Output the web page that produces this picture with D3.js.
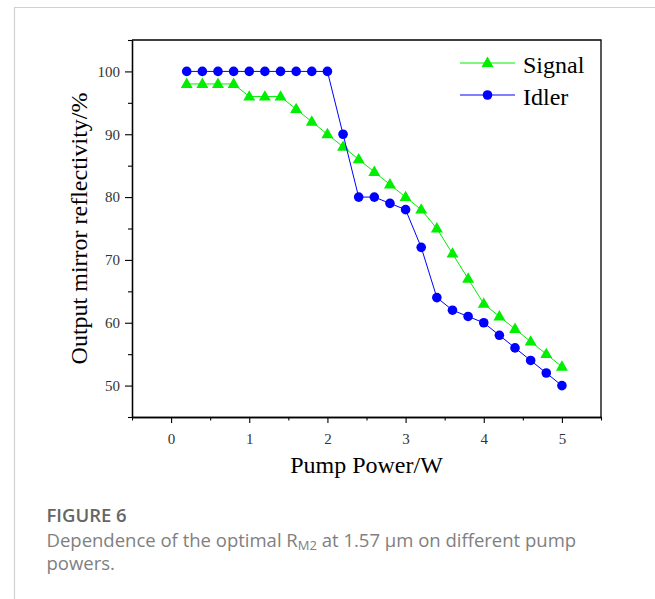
<!DOCTYPE html>
<html>
<head>
<meta charset="utf-8">
<script src="https://cdn.jsdelivr.net/npm/d3@7/dist/d3.min.js"></script>
<style>
  html, body { margin: 0; padding: 0; background: #fff; }
  svg { display: block; }
  .serif { font-family: "Liberation Serif", "Times New Roman", serif; }
  .cap { font-family: "Open Sans", "Noto Sans", sans-serif; }
</style>
</head>
<body>
<svg id="chart" width="655" height="599"></svg>
<script>
// Pump power (W) sampled every 0.2 W
const pumpPower = [0.2, 0.4, 0.6, 0.8, 1.0, 1.2, 1.4, 1.6, 1.8, 2.0, 2.2, 2.4, 2.6,
                   2.8, 3.0, 3.2, 3.4, 3.6, 3.8, 4.0, 4.2, 4.4, 4.6, 4.8, 5.0];
// Optimal output-mirror reflectivity (%)
const signalValues = [98, 98, 98, 98, 96, 96, 96, 94, 92, 90, 88, 86, 84,
                      82, 80, 78, 75, 71, 67, 63, 61, 59, 57, 55, 53];
const idlerValues  = [100, 100, 100, 100, 100, 100, 100, 100, 100, 100, 90, 80, 80,
                      79, 78, 72, 64, 62, 61, 60, 58, 56, 54, 52, 50];
const xTicks = [0, 1, 2, 3, 4, 5];
const yTicks = [50, 60, 70, 80, 90, 100];
const seriesNames = ["Signal", "Idler"];

const svg = d3.select("#chart");
const W = 655, H = 599;

// Panel border (light gray, top and left edges)
svg.append("path")
  .attr("d", `M14.5,${H} V7.5 H${W}`)
  .attr("fill", "none").attr("stroke", "#d0d0d0").attr("stroke-width", 1.2);

const plot = { left: 132, right: 601, top: 40, bottom: 417 };
const x = d3.scaleLinear().domain([-0.5, 5.5]).range([plot.left, plot.right]);
const y = d3.scaleLinear().domain([45, 105]).range([plot.bottom, plot.top]);

const g = svg.append("g");

// Frame (top and right edges)
g.append("path")
  .attr("d", `M${plot.left},${plot.top} H${plot.right} V${plot.bottom}`)
  .attr("fill", "none").attr("stroke", "#000").attr("stroke-width", 1.3);

// Minor ticks halfway between the labelled ones
const xMinor = d3.range(-0.5, 5.51, 1);
const yMinor = d3.range(45, 105.1, 10);

const xAxis = g.append("g").attr("transform", `translate(0,${plot.bottom})`)
  .call(d3.axisBottom(x).tickValues(xTicks).tickFormat(d3.format("d")).tickSize(6).tickSizeOuter(0).tickPadding(10));
const xAxisMinor = g.append("g").attr("transform", `translate(0,${plot.bottom})`)
  .call(d3.axisBottom(x).tickValues(xMinor).tickFormat("").tickSize(3.5).tickSizeOuter(0));
const yAxis = g.append("g").attr("transform", `translate(${plot.left},0)`)
  .call(d3.axisLeft(y).tickValues(yTicks).tickFormat(d3.format("d")).tickSize(7).tickSizeOuter(0).tickPadding(5));
const yAxisMinor = g.append("g").attr("transform", `translate(${plot.left},0)`)
  .call(d3.axisLeft(y).tickValues(yMinor).tickFormat("").tickSize(4).tickSizeOuter(0));

[xAxis, xAxisMinor, yAxis, yAxisMinor].forEach(a => {
  a.attr("font-size", 15);
  a.select(".domain").attr("stroke", "#000").attr("stroke-width", 1.3);
  a.selectAll(".tick line").attr("stroke", "#000").attr("stroke-width", 1.1);
  a.selectAll(".tick text")
    .attr("class", "serif")
    .attr("font-size", 15)
    .attr("fill", "#333");
});

// Axis titles
svg.append("text").attr("class", "serif")
  .attr("x", (plot.left + plot.right) / 2).attr("y", 473)
  .attr("text-anchor", "middle").attr("font-size", 24).attr("fill", "#000")
  .text("Pump Power/W");
svg.append("text").attr("class", "serif")
  .attr("transform", `translate(87,${(plot.top + plot.bottom) / 2}) rotate(-90)`)
  .attr("text-anchor", "middle").attr("font-size", 24).attr("fill", "#000")
  .text("Output mirror reflectivity/%");

// Series
const series = [
  { name: seriesNames[0], values: signalValues, color: "#00ee00", shape: "triangle" },
  { name: seriesNames[1], values: idlerValues, color: "#0000ff", shape: "circle" }
];
const triangle = d3.symbol().type(d3.symbolTriangle).size(62);

function drawMarker(sel, s) {
  if (s.shape === "circle") {
    sel.append("circle").attr("r", 4.8).attr("fill", s.color);
  } else {
    sel.append("path").attr("d", triangle()).attr("transform", "translate(0,0.5)").attr("fill", s.color);
  }
}

const line = d3.line().x(d => x(d[0])).y(d => y(d[1]));
series.forEach(s => {
  const pts = pumpPower.map((p, i) => [p, s.values[i]]);
  const sg = g.append("g");
  sg.append("path").datum(pts).attr("d", line)
    .attr("fill", "none").attr("stroke", s.color).attr("stroke-width", 1);
  sg.selectAll("g.pt").data(pts).join("g")
    .attr("class", "pt")
    .attr("transform", d => `translate(${x(d[0])},${y(d[1])})`)
    .each(function () { drawMarker(d3.select(this), s); });
});

// Legend
const legend = svg.append("g");
series.forEach((s, i) => {
  const ly = 63 + i * 32;
  const lg = legend.append("g");
  lg.append("line").attr("x1", 460).attr("x2", 515).attr("y1", ly).attr("y2", ly)
    .attr("stroke", s.color).attr("stroke-width", 1);
  const m = lg.append("g").attr("transform", `translate(487.5,${ly})`);
  drawMarker(m, s);
  lg.append("text").attr("class", "serif")
    .attr("x", 523).attr("y", ly + 9.5)
    .attr("font-size", 24).attr("fill", "#000")
    .text(s.name);
});

// Caption
const cap = svg.append("g").attr("class", "cap");
cap.append("text").attr("x", 46.5).attr("y", 522)
  .attr("font-size", 18.5).attr("font-weight", 600).attr("fill", "#666")
  .text("FIGURE 6");
const l2 = cap.append("text").attr("x", 46.5).attr("y", 547)
  .attr("font-size", 18.5).attr("fill", "#808080");
l2.append("tspan").text("Dependence of the optimal R");
l2.append("tspan").attr("font-size", 13).attr("dy", 3).text("M2");
l2.append("tspan").attr("dy", -3).text(" at 1.57 μm on different pump");
cap.append("text").attr("x", 46.5).attr("y", 570)
  .attr("font-size", 18.5).attr("fill", "#808080")
  .text("powers.");
</script>
</body>
</html>
